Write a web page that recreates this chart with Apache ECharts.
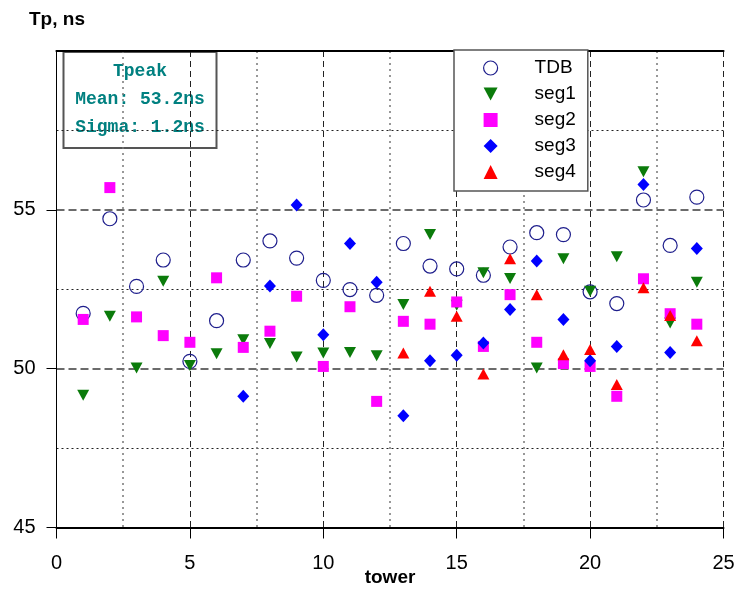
<!DOCTYPE html>
<html>
<head>
<meta charset="utf-8">
<title>Tpeak per tower</title>
<script src="https://cdn.jsdelivr.net/npm/echarts@6/dist/echarts.min.js"></script>
<style>
  html, body { margin: 0; padding: 0; background: #fff; }
  #chart { width: 739px; height: 595px; }
</style>
</head>
<body>
<div id="chart"></div>
<script>
// Peak time (ns) for each tower: TDB and four segments
var towers = [1, 2, 3, 4, 5, 6, 7, 8, 9, 10, 11, 12, 13, 14, 15, 16, 17, 18, 19, 20, 21, 22, 23, 24];
var tdb  = [51.74, 54.72, 52.59, 53.42, 50.23, 51.51, 53.42, 54.02, 53.48, 52.78, 52.49, 52.31, 53.94, 53.23, 53.14, 52.94, 53.83, 54.28, 54.22, 52.42, 52.05, 55.31, 53.88, 55.40];
var seg1 = [49.16, 51.65, 50.02, 52.75, 50.10, 50.47, 50.91, 50.79, 50.37, 50.49, 50.51, 50.41, 52.02, 54.22, 52.00, 53.02, 52.84, 50.02, 53.46, 52.44, 53.52, 56.20, 51.44, 52.72];
var seg2 = [51.55, 55.70, 51.63, 51.04, 50.83, 52.86, 50.67, 51.18, 52.28, 50.07, 51.95, 48.97, 51.49, 51.40, 52.10, 50.70, 52.33, 50.83, 50.16, 50.07, 49.13, 52.83, 51.73, 51.40];
var seg3 = [null, null, null, null, null, null, 49.13, 52.60, 55.15, 51.07, 53.94, 52.72, 48.52, 50.25, 50.42, 50.81, 51.86, 53.39, 51.55, 50.25, 50.70, 55.80, 50.51, 53.78];
var seg4 = [null, null, null, null, null, null, null, null, null, null, null, null, 50.49, 52.44, 51.65, 49.83, 53.46, 52.33, 50.44, 50.60, 49.50, 52.55, 51.67, 50.88];

var xTicks = [0, 5, 10, 15, 20, 25];
var yTicks = [45, 50, 55];

var statTitle = 'Tpeak';
var statMean = 'Mean: 53.2ns';
var statSigma = 'Sigma: 1.2ns';

function pairs(values) {
  var out = [];
  for (var i = 0; i < towers.length; i++) {
    if (values[i] !== null) out.push([towers[i], values[i]]);
  }
  return out;
}

var downTriangle = 'path://M0,0L12,0L6,11Z';
var sans = '"Liberation Sans", Arial, sans-serif';
var mono = '"Liberation Mono", "Courier New", monospace';

var chart = echarts.init(document.getElementById('chart'), null, { renderer: 'canvas' });

chart.setOption({
  animation: false,
  backgroundColor: '#fff',
  grid: { left: 56.5, right: 15.5, top: 51, bottom: 67.5, containLabel: false, outerBoundsMode: 'none' },
  xAxis: [{
    type: 'value', min: 0, max: 25, interval: 5,
    axisLine: { show: true, onZero: false, lineStyle: { color: '#000', width: 2 } },
    axisTick: { show: true, inside: false, length: 11, lineStyle: { color: '#000', width: 1 }, customValues: xTicks },
    axisLabel: { margin: 26, fontFamily: sans, fontSize: 20, color: '#000', customValues: xTicks },
    splitLine: { show: true, lineStyle: { color: '#222', width: 1, type: [6, 4] } },
    minorTick: { show: false, splitNumber: 2 },
    minorSplitLine: { show: true, lineStyle: { color: '#777', width: 1.5, type: [2, 4] } }
  }, {
    type: 'value', min: 0, max: 25, position: 'top',
    axisLine: { show: true, lineStyle: { color: '#000', width: 2.2 } },
    axisTick: { show: false }, axisLabel: { show: false }, splitLine: { show: false }
  }],
  yAxis: [{
    type: 'value', min: 45, max: 60, interval: 5,
    axisLine: { show: true, onZero: false, lineStyle: { color: '#000', width: 1 } },
    axisTick: { show: true, inside: false, length: 10, lineStyle: { color: '#000', width: 1 }, customValues: yTicks },
    axisLabel: { margin: 21, fontFamily: sans, fontSize: 20, color: '#000', padding: [12, 0, 0, 0], customValues: yTicks },
    splitLine: { show: true, lineStyle: { color: '#6b6b6b', width: 2, type: [8, 4] } },
    minorTick: { show: false, splitNumber: 2 },
    minorSplitLine: { show: true, lineStyle: { color: '#222', width: 1, type: [2, 3] } }
  }, {
    type: 'value', min: 45, max: 60, position: 'right',
    axisLine: { show: true, lineStyle: { color: '#000', width: 1 } },
    axisTick: { show: false }, axisLabel: { show: false }, splitLine: { show: false }
  }],
  legend: {
    left: 454, top: 50,
    orient: 'vertical',
    backgroundColor: '#fff',
    borderColor: '#555', borderWidth: 1.5, borderRadius: 0,
    padding: [5, 12, 6, 29],
    itemWidth: 14, itemHeight: 14, itemGap: 0,
    textStyle: { fontFamily: sans, fontSize: 19, color: '#000', lineHeight: 26, padding: [0, 0, 0, 32] },
    data: [
      { name: 'TDB', itemStyle: { color: 'rgba(0,0,0,0)', borderColor: '#1e1e8c', borderWidth: 1.2 } },
      { name: 'seg1' }, { name: 'seg2' }, { name: 'seg3' }, { name: 'seg4' }
    ]
  },
  graphic: [
    { type: 'text', left: 29, top: 10, style: { text: 'Tp, ns', font: 'bold 19px ' + sans, fill: '#000' } },
    { type: 'text', x: 390, y: 578, style: { text: 'tower', font: 'bold 19px ' + sans, fill: '#000', align: 'center', verticalAlign: 'middle' } },
    {
      type: 'group', left: 62.5, top: 51, z: 100,
      children: [
        { type: 'rect', shape: { x: 0, y: 0, width: 153, height: 96 }, style: { fill: '#fff', stroke: '#555', lineWidth: 2 } },
        { type: 'text', x: 76.5, y: 19, style: { text: statTitle, font: 'bold 18px ' + mono, fill: '#008080', align: 'center', verticalAlign: 'middle' } },
        { type: 'text', x: 76.5, y: 47.5, style: { text: statMean, font: 'bold 18px ' + mono, fill: '#008080', align: 'center', verticalAlign: 'middle' } },
        { type: 'text', x: 76.5, y: 75.5, style: { text: statSigma, font: 'bold 18px ' + mono, fill: '#008080', align: 'center', verticalAlign: 'middle' } }
      ]
    }
  ],
  series: [
    { name: 'TDB', type: 'scatter', data: pairs(tdb), symbol: 'circle', symbolSize: 14,
      itemStyle: { color: 'rgba(0,0,0,0)', borderColor: '#1e1e8c', borderWidth: 1.2, opacity: 1 } },
    { name: 'seg1', type: 'scatter', data: pairs(seg1), symbol: downTriangle, symbolSize: [12, 11],
      itemStyle: { color: '#0b7b0b', opacity: 1 } },
    { name: 'seg2', type: 'scatter', data: pairs(seg2), symbol: 'rect', symbolSize: 11,
      itemStyle: { color: '#ff00ff', opacity: 1 } },
    { name: 'seg3', type: 'scatter', data: pairs(seg3), symbol: 'diamond', symbolSize: [12, 13],
      itemStyle: { color: '#0000ff', opacity: 1 } },
    { name: 'seg4', type: 'scatter', data: pairs(seg4), symbol: 'triangle', symbolSize: [12, 11],
      itemStyle: { color: '#ff0000', opacity: 1 } }
  ]
});
</script>
</body>
</html>
